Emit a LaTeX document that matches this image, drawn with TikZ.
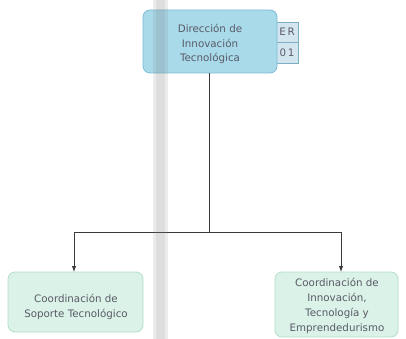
\documentclass[tikz,border=0pt]{standalone}
\usepackage{fontspec}
\setmainfont{DejaVu Sans}
\usetikzlibrary{arrows.meta}
\definecolor{topfill}{HTML}{A8DAEA}
\definecolor{topdraw}{HTML}{7DBAD6}
\definecolor{subfill}{HTML}{DAF2E7}
\definecolor{subdraw}{HTML}{B5DEC9}
\definecolor{erfill}{HTML}{D3E6EF}
\definecolor{txt}{HTML}{5A5A66}
\definecolor{lin}{HTML}{3A3A3A}
\tikzset{
  topbox/.style={draw=topdraw, fill=topfill, rounded corners=7pt, line width=0.8pt},
  subbox/.style={draw=subdraw, fill=subfill, rounded corners=7pt, line width=0.8pt},
  erbox/.style={draw=topdraw!80!gray, fill=erfill, line width=0.6pt},
  lbl/.style={text=txt, font=\fontsize{10.3}{14.8}\selectfont, align=center, inner sep=0pt},
  conn/.style={draw=lin, line width=0.9pt},
  arr/.style={conn, -{Latex[length=6pt,width=4.5pt]}}
}
\begin{document}
\begin{tikzpicture}[x=1pt,y=-1pt]
\useasboundingbox[fill=white] (0,0) rectangle (406,339);
% ER boxes
\draw[erbox] (274,22) rectangle (298,42);
\draw[erbox] (274,42) rectangle (298,63);
\node[lbl] (er) at (287,32) {E\,R};
\node[lbl] (num) at (287,53) {0\,1};
% top box
\draw[topbox] (143,10) rectangle (277,73);
\node[lbl] (top) at (210,44) {Dirección de\\Innovación\\Tecnológica};
% sub boxes
\draw[subbox] (8,272) rectangle (143,332);
\node[lbl] (left) at (76,307) {Coordinación de\\Soporte Tecnológico};
\draw[subbox] (275,272) rectangle (398,337);
\node[lbl] (right) at (337,306) {Coordinación de\\Innovación,\\Tecnología y\\Emprendedurismo};
% connectors
\coordinate (ptop) at (209,73);
\coordinate (pmid) at (209,232);
\coordinate (pl) at (74,232);
\coordinate (pr) at (341,232);
\coordinate (el) at (74,272);
\coordinate (er2) at (341,272);
\draw[conn] (ptop) -- (pmid);
\draw[conn] (pl) -- (pr);
\draw[arr] (pl) -- (el);
\draw[arr] (pr) -- (er2);
% scan band
\fill[gray, opacity=0.15] (153,0) rectangle (168,339);
\fill[gray, opacity=0.12] (156,0) rectangle (165,339);
\end{tikzpicture}
\end{document}
